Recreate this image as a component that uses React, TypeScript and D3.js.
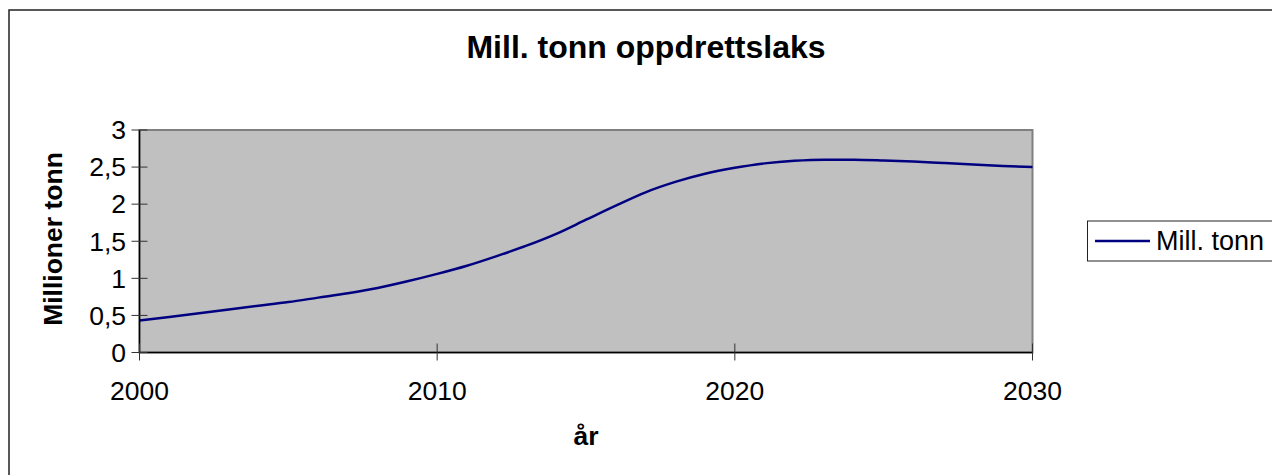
import React from "react";
import * as d3 from "d3";

const years = [2000, 2001, 2002, 2003, 2004, 2005, 2006, 2007, 2008, 2009, 2010, 2011, 2012, 2013, 2014, 2015, 2016, 2017, 2018, 2019, 2020, 2021, 2022, 2023, 2024, 2025, 2026, 2027, 2028, 2029, 2030];
const values = [0.43, 0.48, 0.53, 0.58, 0.63, 0.68, 0.74, 0.8, 0.87, 0.96, 1.06, 1.17, 1.3, 1.44, 1.6, 1.79, 1.98, 2.16, 2.3, 2.41, 2.49, 2.55, 2.585, 2.6, 2.6, 2.59, 2.575, 2.555, 2.535, 2.515, 2.5];
const xTicks = [2000, 2010, 2020, 2030];
const yTicks = [0, 0.5, 1, 1.5, 2, 2.5, 3];
const title = "Mill. tonn oppdrettslaks";
const seriesName = "Mill. tonn";
const xTitle = "år";
const yTitle = "Millioner tonn";

export default function App() {
  const W = 1272, H = 475;
  const left = 139.5, right = 1032.5, top = 130, bottom = 352.5;
  const x = d3.scaleLinear().domain([2000, 2030]).range([left, right]);
  const y = d3.scaleLinear().domain([0, 3]).range([bottom, top]);
  const line = d3
    .line<number>()
    .x((_, i) => x(years[i]))
    .y((d) => y(d))
    .curve(d3.curveMonotoneX);
  const font = "'Liberation Sans', Arial, sans-serif";
  const fmt = (v: number) => String(v).replace(".", ",");
  return (
    <svg width={W} height={H} style={{ position: "absolute", left: 0, top: 0, background: "#fff" }} fontFamily={font}>
      <rect x={9} y={10} width={1300} height={500} fill="#fff" stroke="#222" strokeWidth={1.5} />
      <text x={646} y={58} textAnchor="middle" fontSize={32} fontWeight="bold" fill="#000">{title}</text>
      <rect x={left} y={top} width={right - left} height={bottom - top} fill="#c0c0c0" stroke="#808080" strokeWidth={2} />
      <path d={line(values) || ""} fill="none" stroke="#000080" strokeWidth={2.5} />
      <line x1={left} x2={left} y1={top} y2={bottom} stroke="#000" strokeWidth={1.5} />
      <line x1={left} x2={right} y1={bottom} y2={bottom} stroke="#000" strokeWidth={1.5} />
      {yTicks.map((t) => (
        <g key={t}>
          <line x1={left - 8} x2={left + 8} y1={y(t)} y2={y(t)} stroke="#333" strokeWidth={1} />
          <text x={126} y={y(t)} dy="0.35em" textAnchor="end" fontSize={26.5} fill="#000">{fmt(t)}</text>
        </g>
      ))}
      {xTicks.map((t) => (
        <g key={t}>
          <line x1={x(t)} x2={x(t)} y1={bottom - 9} y2={bottom + 8} stroke="#333" strokeWidth={1} />
          <text x={x(t)} y={400} textAnchor="middle" fontSize={26.5} fill="#000">{t}</text>
        </g>
      ))}
      <text x={586} y={445} textAnchor="middle" fontSize={26.5} fontWeight="bold" fill="#000">{xTitle}</text>
      <text transform={`translate(62,239) rotate(-90)`} textAnchor="middle" fontSize={26.5} fontWeight="bold" fill="#000">{yTitle}</text>
      <rect x={1087.5} y={221} width={300} height={40} fill="#fff" stroke="#222" strokeWidth={1} />
      <line x1={1095} x2={1150} y1={241} y2={241} stroke="#000080" strokeWidth={2.5} />
      <text x={1156} y={250} fontSize={27} fill="#000">{seriesName}</text>
    </svg>
  );
}
